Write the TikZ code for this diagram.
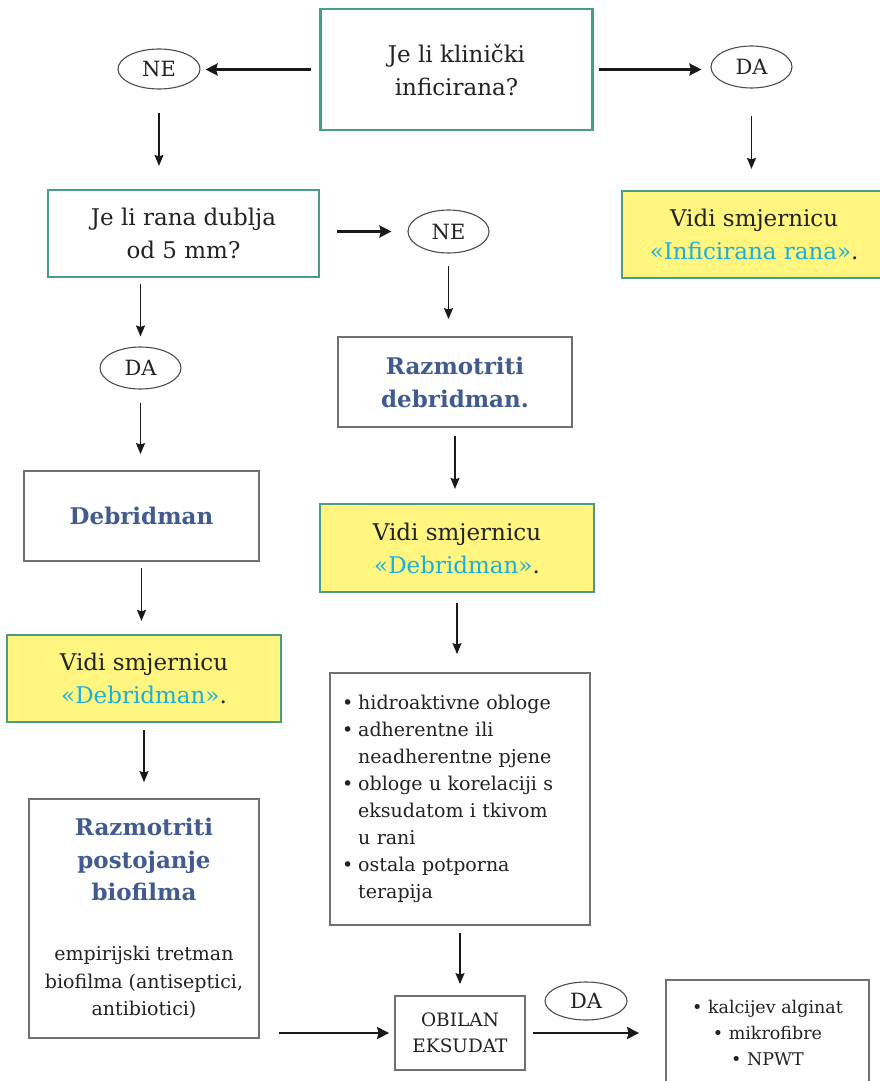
\documentclass[tikz,border=0pt]{standalone}
\usepackage{fontspec}
\setmainfont{DejaVu Serif}
\usetikzlibrary{arrows.meta,shapes.geometric}
\definecolor{teal1}{HTML}{4C9A88}
\definecolor{yel}{HTML}{FFF57F}
\definecolor{dblue}{HTML}{415B91}
\definecolor{cyanT}{HTML}{1AB0DC}
\definecolor{gbord}{HTML}{707070}
\definecolor{txt}{HTML}{222222}
\begin{document}
\begin{tikzpicture}[x=1pt,y=-1pt,
  base/.style={draw, inner sep=0pt, align=center, text=txt},
  qbox/.style={base, draw=teal1, line width=2.2pt, fill=white},
  ybox/.style={base, draw=teal1, line width=2.2pt, fill=yel},
  wbox/.style={base, draw=gbord, line width=1.8pt, fill=white},
  oval/.style={ellipse, draw=black!70, line width=1.1pt, inner sep=0pt,
    font=\fontsize{21}{24}\selectfont, text=txt},
  big/.style={font=\fontsize{23}{33}\selectfont},
  bold/.style={font=\fontsize{23}{33}\selectfont\bfseries, text=dblue},
  arr/.style={draw=black!90, line width=1.5pt, -{Stealth[length=11pt,width=9pt,inset=1.5pt]}},
  arrT/.style={draw=black!90, line width=2.8pt, -{Stealth[length=12pt,width=12pt,inset=1.5pt]}}
]
\useasboundingbox (0,0) rectangle (880,1081);

% top row
\node[qbox,big,minimum width=272pt,minimum height=121pt] (q1) at (456.5,69.5) {Je li klinički\\inficirana?};
\node[oval,minimum width=82pt,minimum height=40pt] (ne1) at (159,69) {NE};
\node[oval,minimum width=81pt,minimum height=42pt] (da1) at (751.5,67) {DA};

% second row
\node[qbox,big,minimum width=271pt,minimum height=87pt] (q2) at (183.5,233.5) {Je li rana dublja\\od 5 mm?};
\node[oval,minimum width=81pt,minimum height=43pt] (ne2) at (448.5,231.5) {NE};
\node[ybox,big,minimum width=264pt,minimum height=87pt,anchor=west] (y1) at (621,234.5) {Vidi smjernicu\\{\color{cyanT}«Inficirana rana»}.};

% left column
\node[oval,minimum width=81pt,minimum height=42pt] (da2) at (140.5,368) {DA};
\node[wbox,bold,minimum width=235pt,minimum height=90pt] (deb) at (141.5,516) {Debridman};
\node[ybox,big,minimum width=274pt,minimum height=87pt] (y2) at (144,678.5) {Vidi smjernicu\\{\color{cyanT}«Debridman»}.};
\node[wbox,minimum width=230pt,minimum height=239pt] (bio) at (144,918.5)
  {{\fontsize{23}{32.5}\selectfont\bfseries\color{dblue}\begin{tabular}{@{}c@{}}Razmotriti\\postojanje\\biofilma\end{tabular}}\\[30pt]
   {\fontsize{19}{27.5}\selectfont\begin{tabular}{@{}c@{}}empirijski tretman\\biofilma (antiseptici,\\antibiotici)\end{tabular}}};

% middle column
\node[wbox,bold,minimum width=234pt,minimum height=90pt] (rd) at (455,382) {Razmotriti\\debridman.};
\node[ybox,big,minimum width=274pt,minimum height=88pt] (y3) at (457,548) {Vidi smjernicu\\{\color{cyanT}«Debridman»}.};
\node[wbox,text width=236pt,inner xsep=12pt,minimum height=252pt,align=left,
  font=\fontsize{19}{27}\selectfont] (bl) at (460,799)
  {\begin{tabular}{@{}l@{\hspace{5pt}}l@{}}
   •&hidroaktivne obloge\\
   •&adherentne ili\\
    &neadherentne pjene\\
   •&obloge u korelaciji s\\
    &eksudatom i tkivom\\
    &u rani\\
   •&ostala potporna\\
    &terapija
   \end{tabular}};
\node[wbox,minimum width=130pt,minimum height=74pt,font=\fontsize{18.5}{26}\selectfont] (ob) at (460,1033) {OBILAN\\EKSUDAT};
\node[oval,minimum width=82pt,minimum height=38pt] (da3) at (586,1001) {DA};
\node[wbox,minimum width=203pt,minimum height=106pt,font=\fontsize{17.5}{26}\selectfont] (rb) at (767.5,1033)
  {• kalcijev alginat\\• mikrofibre\\• NPWT};

% connectors
\draw[arrT, shorten <=8pt, shorten >=5pt] (q1.west) -- (q1.west -| ne1.east);
\draw[arrT, shorten <=5pt, shorten >=9pt] (q1.east) -- (q1.east -| da1.west);
\draw[arr, shorten <=23pt, shorten >=23pt] (ne1.south) -- (ne1.south |- q2.north);
\draw[arr, shorten <=27pt, shorten >=21pt] (da1.south) -- (da1.south |- y1.north);
\draw[arrT, shorten <=17pt, shorten >=16pt] (ne2.west -| q2.east) -- (ne2.west);
\draw[arr, shorten <=6pt, shorten >=10pt] (da2.north |- q2.south) -- (da2.north);
\draw[arr, shorten <=13pt, shorten >=16pt] (da2.south) -- (da2.south |- deb.north);
\draw[arr, shorten <=6pt, shorten >=13pt] (deb.south) -- (deb.south |- y2.north);
\draw[arr, shorten <=7pt, shorten >=16pt] (y2.south) -- (y2.south |- bio.north);
\draw[arrT, shorten <=19pt, shorten >=5pt] (ob.west -| bio.east) -- (ob.west);
\draw[arr, shorten <=12pt, shorten >=17pt] (ne2.south) -- (ne2.south |- rd.north);
\draw[arr, shorten <=8pt, shorten >=14pt] (rd.south) -- (rd.south |- y3.north);
\draw[arr, shorten <=10pt, shorten >=18pt] (y3.south) -- (y3.south |- bl.north);
\draw[arr, shorten <=7pt, shorten >=11pt] (ob.north |- bl.south) -- (ob.north);
\draw[arrT, shorten <=7pt, shorten >=26pt] (ob.east) -- (ob.east -| rb.west);
\end{tikzpicture}
\end{document}
